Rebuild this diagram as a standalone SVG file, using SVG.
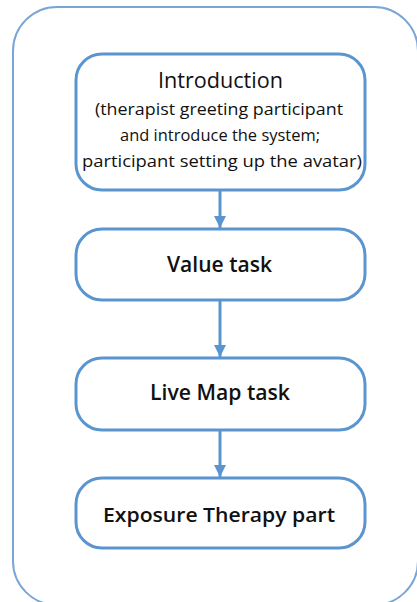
<svg xmlns="http://www.w3.org/2000/svg" width="417" height="602" viewBox="0 0 417 602">
  <style>
    .frame { fill: #ffffff; stroke: #7aa6d6; stroke-width: 2; }
    .box { fill: #ffffff; stroke: #5b95cf; stroke-width: 3; }
    .title { font-family: "Open Sans", "Noto Sans", sans-serif; fill: #111111; text-anchor: middle; }
    .strong { font-weight: 600; }
    .link { stroke: #5b95cf; stroke-width: 3; fill: none; }
  </style>
  <defs>
    <marker id="arrow" markerWidth="4" markerHeight="4" refX="4" refY="2" orient="auto" markerUnits="strokeWidth">
      <path d="M0,0 L4,2 L0,4 Z" fill="#5b95cf"/>
    </marker>
  </defs>
  <rect width="417" height="602" fill="#ffffff"/>
  <!-- outer container -->
  <rect class="frame" x="13" y="7" width="405" height="598" rx="44" ry="44"/>

  <g id="connectors">
    <line class="link" x1="220" y1="190" x2="220" y2="228" marker-end="url(#arrow)"/>
    <line class="link" x1="220" y1="300" x2="220" y2="357" marker-end="url(#arrow)"/>
    <line class="link" x1="220" y1="430" x2="220" y2="477" marker-end="url(#arrow)"/>
  </g>

  <g id="introduction">
    <rect class="box" x="76" y="54" width="289" height="136" rx="26" ry="26"/>
    <text class="title" x="220.5" y="88" font-size="21" font-weight="500" textLength="125" lengthAdjust="spacingAndGlyphs">Introduction</text>
    <text class="title" x="219" y="115" font-size="17" textLength="248" lengthAdjust="spacingAndGlyphs">(therapist greeting participant</text>
    <text class="title" x="220" y="141" font-size="17" textLength="200" lengthAdjust="spacingAndGlyphs">and introduce the system;</text>
    <text class="title" x="222" y="167" font-size="17" textLength="280" lengthAdjust="spacingAndGlyphs">participant setting up the avatar)</text>
  </g>

  <g id="value-task">
    <rect class="box" x="76" y="229" width="289" height="71" rx="26" ry="26"/>
    <text class="title strong" x="219.5" y="272" font-size="21" textLength="105" lengthAdjust="spacingAndGlyphs">Value task</text>
  </g>

  <g id="live-map-task">
    <rect class="box" x="76" y="358" width="289" height="72" rx="26" ry="26"/>
    <text class="title strong" x="220" y="400" font-size="21" textLength="140" lengthAdjust="spacingAndGlyphs">Live Map task</text>
  </g>

  <g id="exposure-therapy">
    <rect class="box" x="76" y="478" width="289" height="70" rx="26" ry="26"/>
    <text class="title strong" x="219" y="522" font-size="20" textLength="232" lengthAdjust="spacingAndGlyphs">Exposure Therapy part</text>
  </g>
</svg>
